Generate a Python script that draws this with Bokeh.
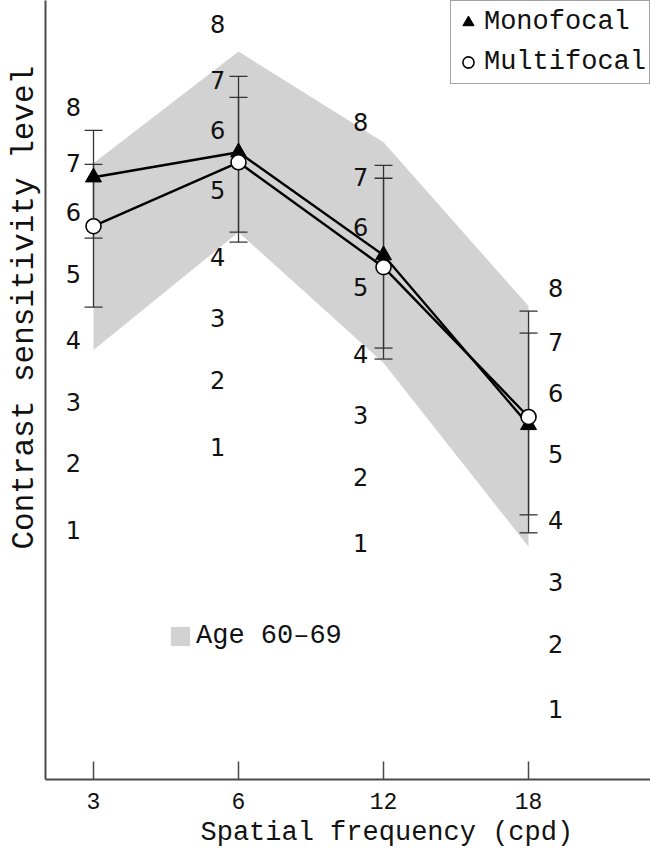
from bokeh.plotting import figure
from bokeh.models import Range1d, FixedTicker, Legend, LegendItem, ColumnDataSource, Title
from bokeh.core.properties import value
from bokeh.embed import file_html
from bokeh.resources import INLINE

# ---- data (vertical values in chart units) ----
freq_labels = ["3", "6", "12", "18"]
freq_idx = [0, 1, 2, 3]

mono_mean = [6.03, 6.28, 5.25, 3.55]
mono_upper = [6.50, 7.04, 6.15, 4.69]
mono_lower = [5.42, 5.48, 4.32, 2.47]

multi_mean = [5.54, 6.18, 5.13, 3.63]
multi_upper = [6.16, 6.83, 6.02, 4.47]
multi_lower = [4.73, 5.38, 4.21, 2.65]

norm_upper = [6.17, 7.29, 6.38, 4.74]
norm_lower = [4.30, 5.48, 4.17, 2.33]

levels = ["1", "2", "3", "4", "5", "6", "7", "8"]
level_pos_3 = [2.50, 3.17, 3.78, 4.40, 5.06, 5.68, 6.17, 6.73]
level_pos_6 = [3.33, 4.00, 4.62, 5.23, 5.90, 6.50, 7.00, 7.56]
level_pos_12 = [2.37, 3.03, 3.65, 4.26, 4.93, 5.53, 6.03, 6.58]
level_pos_18 = [0.71, 1.36, 1.98, 2.60, 3.26, 3.87, 4.38, 4.92]

MONO = "Liberation Mono"
AXIS_COL = "#4a4a4a"
TXT = "#111111"

p = figure(width=650, height=852, output_backend="svg", toolbar_location=None,
           x_range=Range1d(-0.331, 3.841), y_range=Range1d(0, 7.80),
           min_border_left=45, min_border_right=0, min_border_top=0, min_border_bottom=72)
p.outline_line_color = None
p.grid.visible = False
p.background_fill_color = "white"

# band of age norms
band = p.varea(x=freq_idx, y1=norm_lower, y2=norm_upper, fill_color="#d2d2d2")

# level labels for each column
for col, pos, off in [(0, level_pos_3, -20), (1, level_pos_6, -21),
                      (2, level_pos_12, -23), (3, level_pos_18, 27)]:
    src = ColumnDataSource(dict(x=[col] * len(levels), y=pos, t=levels))
    p.text(x="x", y="y", text="t", source=src, x_offset=off,
           text_font=value("DejaVu Sans"), text_font_size="24px",
           text_align="center", text_baseline="middle", text_color=TXT)

# error bars
for up, lo in [(mono_upper, mono_lower), (multi_upper, multi_lower)]:
    p.segment(x0=freq_idx, y0=lo, x1=freq_idx, y1=up, line_color="#333333", line_width=1.3)
    p.scatter(x=freq_idx, y=up, marker="dash", size=18, line_color="#333333", line_width=1.3)
    p.scatter(x=freq_idx, y=lo, marker="dash", size=18, line_color="#333333", line_width=1.3)

# series lines
p.line(x=freq_idx, y=mono_mean, line_color="black", line_width=2.4)
p.line(x=freq_idx, y=multi_mean, line_color="black", line_width=2.4)
mono_r = p.scatter(x=freq_idx, y=mono_mean, marker="triangle", size=16,
                   fill_color="black", line_color="black")
multi_r = p.scatter(x=freq_idx, y=multi_mean, marker="circle", size=15,
                    fill_color="white", line_color="black", line_width=1.6)

# axes
p.xaxis.ticker = FixedTicker(ticks=freq_idx)
p.xaxis.major_label_overrides = {i: s for i, s in zip(freq_idx, freq_labels)}
p.xaxis.major_label_text_font = MONO
p.xaxis.major_label_text_font_size = "23px"
p.xaxis.major_label_text_color = TXT
p.xaxis.major_label_standoff = 13
p.xaxis.major_tick_in = 18
p.xaxis.major_tick_out = 0
p.xaxis.minor_tick_line_color = None
p.xaxis.major_tick_line_color = AXIS_COL
p.xaxis.major_tick_line_width = 1.5
p.xaxis.axis_line_color = AXIS_COL
p.xaxis.axis_line_width = 2

p.yaxis.ticker = FixedTicker(ticks=[])
p.yaxis.major_tick_in = 0
p.yaxis.major_tick_out = 0
p.yaxis.minor_tick_line_color = None
p.yaxis.major_label_text_font_size = "0px"
p.yaxis.major_label_standoff = 0
p.yaxis.axis_line_color = AXIS_COL
p.yaxis.axis_line_width = 2

# axis titles (placed as titles so they can sit off-centre like the original)
xt = Title(text="Spatial frequency (cpd)", align="left", offset=155, standoff=9,
           text_font=MONO, text_font_size="27px", text_font_style="normal",
           text_color=TXT)
p.add_layout(xt, "below")
yt = Title(text="Contrast sensitivity level", align="left", offset=230, standoff=8,
           text_font=MONO, text_font_size="31px", text_font_style="normal",
           text_color=TXT)
p.add_layout(yt, "left")

# legends
leg1 = Legend(items=[LegendItem(label="Monofocal", renderers=[mono_r]),
                     LegendItem(label="Multifocal", renderers=[multi_r])],
              location="top_right", margin=0, padding=3, spacing=4,
              glyph_width=28, glyph_height=36, label_standoff=2,
              label_text_font=MONO, label_text_font_size="27px",
              label_text_color=TXT,
              border_line_color="#444444", border_line_width=1.5,
              background_fill_color="white", background_fill_alpha=1.0)
leg2 = Legend(items=[LegendItem(label="Age 60\u201369", renderers=[band])],
              location=(123, 128), margin=0, padding=0,
              glyph_width=24, glyph_height=24, label_standoff=4,
              label_text_font=MONO, label_text_font_size="27px",
              label_text_color=TXT,
              border_line_color=None, background_fill_alpha=0.0)
p.add_layout(leg1)
p.add_layout(leg2)

open("out.html", "w").write(file_html(p, INLINE))
